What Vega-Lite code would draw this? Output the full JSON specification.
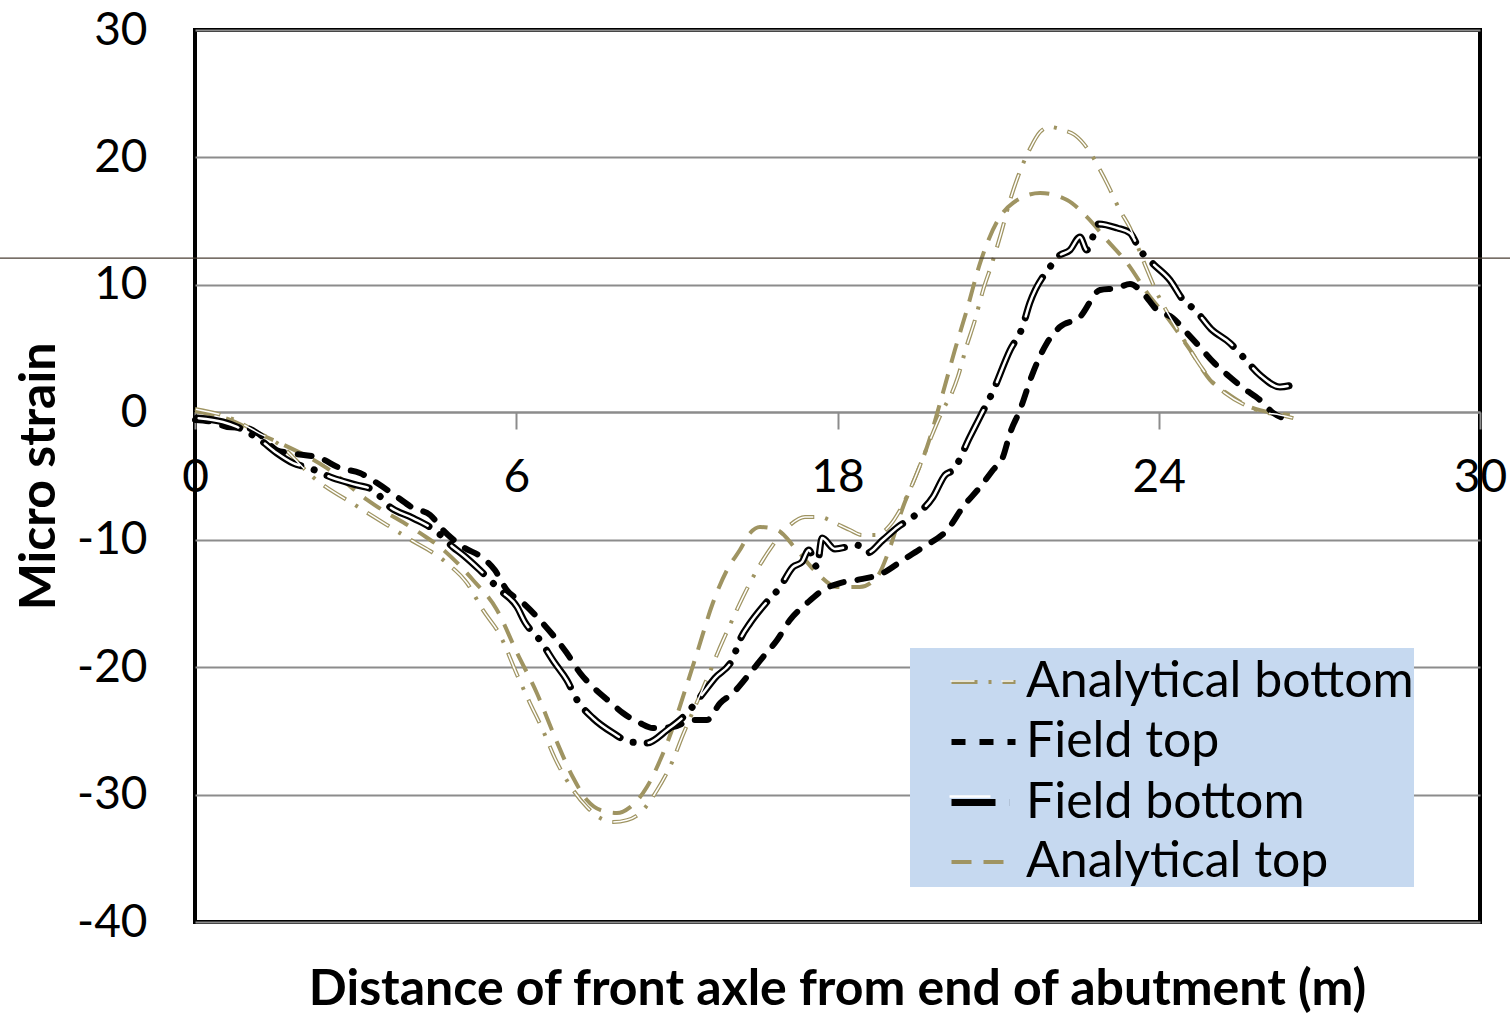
{
"$schema":"https://vega.github.io/schema/vega-lite/v6.json",
"width":1285,"height":892,
"autosize":{"type":"none"},
"padding":{"left":195,"top":30,"right":30,"bottom":94},
"background":"white",
"title":{"text":"Distance of front axle from end of abutment (m)","orient":"bottom","anchor":"middle","font":"Lato","fontSize":50,"fontWeight":"bold","color":"black","offset":20},
"config":{"view":{"stroke":"black","strokeWidth":4},"font":"Lato"},
"datasets":{"strain":[
{"series":"Analytical top","distance":0,"strain":0.10},{"series":"Analytical top","distance":0.82,"strain":-0.60},{"series":"Analytical top","distance":1.45,"strain":-1.62},{"series":"Analytical top","distance":1.98,"strain":-2.41},{"series":"Analytical top","distance":3.08,"strain":-4.38},{"series":"Analytical top","distance":4.02,"strain":-6.88},{"series":"Analytical top","distance":5.25,"strain":-9.47},{"series":"Analytical top","distance":5.72,"strain":-10.57},{"series":"Analytical top","distance":6.49,"strain":-13.16},{"series":"Analytical top","distance":7.05,"strain":-15.51},{"series":"Analytical top","distance":7.52,"strain":-18.89},{"series":"Analytical top","distance":7.98,"strain":-22.03},{"series":"Analytical top","distance":8.40,"strain":-25.48},{"series":"Analytical top","distance":8.82,"strain":-28.62},{"series":"Analytical top","distance":9.15,"strain":-30.43},{"series":"Analytical top","distance":9.46,"strain":-31.21},{"series":"Analytical top","distance":9.85,"strain":-31.45},{"series":"Analytical top","distance":10.16,"strain":-30.98},{"series":"Analytical top","distance":10.55,"strain":-29.41},{"series":"Analytical top","distance":10.86,"strain":-27.29},{"series":"Analytical top","distance":11.16,"strain":-24.70},{"series":"Analytical top","distance":11.39,"strain":-22.35},{"series":"Analytical top","distance":11.72,"strain":-18.89},{"series":"Analytical top","distance":12.09,"strain":-14.97},{"series":"Analytical top","distance":12.42,"strain":-12.38},{"series":"Analytical top","distance":12.72,"strain":-10.81},{"series":"Analytical top","distance":12.96,"strain":-9.47},{"series":"Analytical top","distance":13.19,"strain":-9.00},{"series":"Analytical top","distance":13.59,"strain":-9.24},{"series":"Analytical top","distance":14.05,"strain":-10.81},{"series":"Analytical top","distance":14.52,"strain":-12.61},{"series":"Analytical top","distance":14.99,"strain":-13.71},{"series":"Analytical top","distance":15.52,"strain":-13.71},{"series":"Analytical top","distance":15.92,"strain":-12.93},{"series":"Analytical top","distance":16.23,"strain":-10.57},{"series":"Analytical top","distance":16.53,"strain":-7.43},{"series":"Analytical top","distance":16.76,"strain":-5.55},{"series":"Analytical top","distance":17.09,"strain":-2.72},{"series":"Analytical top","distance":17.46,"strain":1.51},{"series":"Analytical top","distance":17.74,"strain":4.89},{"series":"Analytical top","distance":18.02,"strain":8.03},{"series":"Analytical top","distance":18.33,"strain":11.72},{"series":"Analytical top","distance":18.79,"strain":15.33},{"series":"Analytical top","distance":19.10,"strain":16.43},{"series":"Analytical top","distance":19.73,"strain":17.21},{"series":"Analytical top","distance":20.36,"strain":16.66},{"series":"Analytical top","distance":20.82,"strain":15.33},{"series":"Analytical top","distance":21.29,"strain":13.52},{"series":"Analytical top","distance":21.76,"strain":11.72},{"series":"Analytical top","distance":22.30,"strain":9.05},{"series":"Analytical top","distance":22.69,"strain":7.48},{"series":"Analytical top","distance":23.23,"strain":4.89},{"series":"Analytical top","distance":23.70,"strain":2.53},{"series":"Analytical top","distance":24.09,"strain":1.51},{"series":"Analytical top","distance":24.63,"strain":0.42},{"series":"Analytical top","distance":25.17,"strain":-0.05},{"series":"Analytical top","distance":25.56,"strain":-0.21},
{"series":"Analytical bottom","distance":0,"strain":0.26},{"series":"Analytical bottom","distance":0.82,"strain":-0.45},{"series":"Analytical bottom","distance":1.45,"strain":-1.55},{"series":"Analytical bottom","distance":1.98,"strain":-2.56},{"series":"Analytical bottom","distance":2.75,"strain":-5.08},{"series":"Analytical bottom","distance":3.81,"strain":-7.43},{"series":"Analytical bottom","distance":4.97,"strain":-9.87},{"series":"Analytical bottom","distance":5.88,"strain":-11.83},{"series":"Analytical bottom","distance":6.35,"strain":-13.40},{"series":"Analytical bottom","distance":6.72,"strain":-15.51},{"series":"Analytical bottom","distance":7.12,"strain":-17.48},{"series":"Analytical bottom","distance":7.52,"strain":-20.61},{"series":"Analytical bottom","distance":7.82,"strain":-22.82},{"series":"Analytical bottom","distance":8.12,"strain":-24.93},{"series":"Analytical bottom","distance":8.40,"strain":-27.13},{"series":"Analytical bottom","distance":8.75,"strain":-29.25},{"series":"Analytical bottom","distance":9.15,"strain":-30.98},{"series":"Analytical bottom","distance":9.46,"strain":-31.84},{"series":"Analytical bottom","distance":9.76,"strain":-32.15},{"series":"Analytical bottom","distance":10.09,"strain":-32.00},{"series":"Analytical bottom","distance":10.39,"strain":-31.45},{"series":"Analytical bottom","distance":10.79,"strain":-29.64},{"series":"Analytical bottom","distance":11.14,"strain":-27.44},{"series":"Analytical bottom","distance":11.39,"strain":-25.33},{"series":"Analytical bottom","distance":11.79,"strain":-22.19},{"series":"Analytical bottom","distance":12.02,"strain":-20.38},{"series":"Analytical bottom","distance":12.21,"strain":-18.81},{"series":"Analytical bottom","distance":12.49,"strain":-16.69},{"series":"Analytical bottom","distance":12.79,"strain":-14.50},{"series":"Analytical bottom","distance":13.12,"strain":-12.38},{"series":"Analytical bottom","distance":13.49,"strain":-10.42},{"series":"Analytical bottom","distance":13.89,"strain":-8.85},{"series":"Analytical bottom","distance":14.24,"strain":-8.22},{"series":"Analytical bottom","distance":14.59,"strain":-8.22},{"series":"Analytical bottom","distance":14.94,"strain":-8.69},{"series":"Analytical bottom","distance":15.29,"strain":-9.24},{"series":"Analytical bottom","distance":15.57,"strain":-9.63},{"series":"Analytical bottom","distance":15.88,"strain":-9.63},{"series":"Analytical bottom","distance":16.23,"strain":-8.85},{"series":"Analytical bottom","distance":16.46,"strain":-7.67},{"series":"Analytical bottom","distance":16.76,"strain":-5.55},{"series":"Analytical bottom","distance":17.16,"strain":-2.17},{"series":"Analytical bottom","distance":17.46,"strain":0.18},{"series":"Analytical bottom","distance":17.67,"strain":1.51},{"series":"Analytical bottom","distance":17.81,"strain":2.77},{"series":"Analytical bottom","distance":18.00,"strain":5.04},{"series":"Analytical bottom","distance":18.21,"strain":7.24},{"series":"Analytical bottom","distance":18.40,"strain":9.60},{"series":"Analytical bottom","distance":18.61,"strain":11.72},{"series":"Analytical bottom","distance":18.82,"strain":14.07},{"series":"Analytical bottom","distance":19.03,"strain":16.66},{"series":"Analytical bottom","distance":19.21,"strain":18.46},{"series":"Analytical bottom","distance":19.49,"strain":20.66},{"series":"Analytical bottom","distance":19.73,"strain":22.00},{"series":"Analytical bottom","distance":19.96,"strain":22.39},{"series":"Analytical bottom","distance":20.26,"strain":22.15},{"series":"Analytical bottom","distance":20.54,"strain":21.76},{"series":"Analytical bottom","distance":20.89,"strain":20.43},{"series":"Analytical bottom","distance":21.13,"strain":19.01},{"series":"Analytical bottom","distance":21.29,"strain":17.99},{"series":"Analytical bottom","distance":21.59,"strain":15.88},{"series":"Analytical bottom","distance":21.83,"strain":14.46},{"series":"Analytical bottom","distance":22.18,"strain":11.56},{"series":"Analytical bottom","distance":22.46,"strain":9.36},{"series":"Analytical bottom","distance":22.83,"strain":7.09},{"series":"Analytical bottom","distance":23.16,"strain":5.28},{"series":"Analytical bottom","distance":23.46,"strain":3.71},{"series":"Analytical bottom","distance":23.77,"strain":2.30},{"series":"Analytical bottom","distance":24.05,"strain":1.51},{"series":"Analytical bottom","distance":24.51,"strain":0.57},{"series":"Analytical bottom","distance":24.93,"strain":0.02},{"series":"Analytical bottom","distance":25.33,"strain":-0.21},{"series":"Analytical bottom","distance":25.80,"strain":-0.60},
{"series":"Field top","distance":0,"strain":-0.60},{"series":"Field top","distance":0.42,"strain":-0.76},{"series":"Field top","distance":0.75,"strain":-1.15},{"series":"Field top","distance":1.21,"strain":-1.23},{"series":"Field top","distance":1.52,"strain":-1.78},{"series":"Field top","distance":1.91,"strain":-2.97},{"series":"Field top","distance":2.22,"strain":-3.20},{"series":"Field top","distance":2.92,"strain":-3.60},{"series":"Field top","distance":3.39,"strain":-4.38},{"series":"Field top","distance":3.85,"strain":-4.77},{"series":"Field top","distance":4.25,"strain":-5.55},{"series":"Field top","distance":4.72,"strain":-6.65},{"series":"Field top","distance":5.09,"strain":-7.51},{"series":"Field top","distance":5.49,"strain":-8.06},{"series":"Field top","distance":5.79,"strain":-9.24},{"series":"Field top","distance":6.26,"strain":-10.57},{"series":"Field top","distance":6.72,"strain":-11.43},{"series":"Field top","distance":7.00,"strain":-12.38},{"series":"Field top","distance":7.28,"strain":-13.95},{"series":"Field top","distance":7.66,"strain":-14.97},{"series":"Field top","distance":8.05,"strain":-16.30},{"series":"Field top","distance":8.45,"strain":-17.87},{"series":"Field top","distance":8.68,"strain":-18.89},{"series":"Field top","distance":8.99,"strain":-20.46},{"series":"Field top","distance":9.29,"strain":-21.56},{"series":"Field top","distance":9.69,"strain":-22.74},{"series":"Field top","distance":9.99,"strain":-23.60},{"series":"Field top","distance":10.39,"strain":-24.39},{"series":"Field top","distance":10.69,"strain":-24.78},{"series":"Field top","distance":11.16,"strain":-24.70},{"series":"Field top","distance":11.63,"strain":-24.15},{"series":"Field top","distance":11.95,"strain":-24.15},{"series":"Field top","distance":12.26,"strain":-22.82},{"series":"Field top","distance":12.56,"strain":-22.03},{"series":"Field top","distance":12.96,"strain":-20.46},{"series":"Field top","distance":13.26,"strain":-19.21},{"series":"Field top","distance":13.59,"strain":-17.87},{"series":"Field top","distance":13.89,"strain":-16.30},{"series":"Field top","distance":14.29,"strain":-14.97},{"series":"Field top","distance":14.66,"strain":-13.95},{"series":"Field top","distance":15.06,"strain":-13.40},{"series":"Field top","distance":15.46,"strain":-13.16},{"series":"Field top","distance":16.06,"strain":-12.61},{"series":"Field top","distance":16.53,"strain":-11.59},{"series":"Field top","distance":17.00,"strain":-10.57},{"series":"Field top","distance":17.56,"strain":-9.24},{"series":"Field top","distance":17.93,"strain":-7.43},{"series":"Field top","distance":18.33,"strain":-5.86},{"series":"Field top","distance":18.63,"strain":-4.53},{"series":"Field top","distance":18.86,"strain":-3.52},{"series":"Field top","distance":19.03,"strain":-1.62},{"series":"Field top","distance":19.26,"strain":0.18},{"series":"Field top","distance":19.56,"strain":3.08},{"series":"Field top","distance":19.89,"strain":5.44},{"series":"Field top","distance":20.19,"strain":6.69},{"series":"Field top","distance":20.66,"strain":7.48},{"series":"Field top","distance":21.13,"strain":9.60},{"series":"Field top","distance":21.53,"strain":9.75},{"series":"Field top","distance":21.83,"strain":10.07},{"series":"Field top","distance":22.13,"strain":9.36},{"series":"Field top","distance":22.46,"strain":8.03},{"series":"Field top","distance":22.83,"strain":7.40},{"series":"Field top","distance":23.16,"strain":6.22},{"series":"Field top","distance":23.46,"strain":5.12},{"series":"Field top","distance":23.77,"strain":3.95},{"series":"Field top","distance":24.16,"strain":2.77},{"series":"Field top","distance":24.47,"strain":1.91},{"series":"Field top","distance":24.86,"strain":0.97},{"series":"Field top","distance":25.17,"strain":-0.05},{"series":"Field top","distance":25.56,"strain":-0.60},
{"series":"Field bottom","distance":0.05,"strain":-0.45},{"series":"Field bottom","distance":0.65,"strain":-0.76},{"series":"Field bottom","distance":0.98,"strain":-1.15},{"series":"Field bottom","distance":1.52,"strain":-2.17},{"series":"Field bottom","distance":1.91,"strain":-3.20},{"series":"Field bottom","distance":2.29,"strain":-3.99},{"series":"Field bottom","distance":2.68,"strain":-4.38},{"series":"Field bottom","distance":3.22,"strain":-5.16},{"series":"Field bottom","distance":3.78,"strain":-5.71},{"series":"Field bottom","distance":4.16,"strain":-6.10},{"series":"Field bottom","distance":4.55,"strain":-7.43},{"series":"Field bottom","distance":5.09,"strain":-8.30},{"series":"Field bottom","distance":5.65,"strain":-9.39},{"series":"Field bottom","distance":6.02,"strain":-10.57},{"series":"Field bottom","distance":6.26,"strain":-11.20},{"series":"Field bottom","distance":6.65,"strain":-12.38},{"series":"Field bottom","distance":7.12,"strain":-13.95},{"series":"Field bottom","distance":7.52,"strain":-15.28},{"series":"Field bottom","distance":7.70,"strain":-16.46},{"series":"Field bottom","distance":8.05,"strain":-17.87},{"series":"Field bottom","distance":8.40,"strain":-19.68},{"series":"Field bottom","distance":8.68,"strain":-21.01},{"series":"Field bottom","distance":8.92,"strain":-22.58},{"series":"Field bottom","distance":9.29,"strain":-24.00},{"series":"Field bottom","distance":9.76,"strain":-25.17},{"series":"Field bottom","distance":10.16,"strain":-25.87},{"series":"Field bottom","distance":10.55,"strain":-25.95},{"series":"Field bottom","distance":11.02,"strain":-24.93},{"series":"Field bottom","distance":11.49,"strain":-23.60},{"series":"Field bottom","distance":11.79,"strain":-22.35},{"series":"Field bottom","distance":12.14,"strain":-20.85},{"series":"Field bottom","distance":12.56,"strain":-19.29},{"series":"Field bottom","distance":12.72,"strain":-17.87},{"series":"Field bottom","distance":12.96,"strain":-16.54},{"series":"Field bottom","distance":13.31,"strain":-15.04},{"series":"Field bottom","distance":13.66,"strain":-13.71},{"series":"Field bottom","distance":13.96,"strain":-12.14},{"series":"Field bottom","distance":14.17,"strain":-11.75},{"series":"Field bottom","distance":14.33,"strain":-10.81},{"series":"Field bottom","distance":14.52,"strain":-12.14},{"series":"Field bottom","distance":14.64,"strain":-9.87},{"series":"Field bottom","distance":14.94,"strain":-10.73},{"series":"Field bottom","distance":15.46,"strain":-10.42},{"series":"Field bottom","distance":15.69,"strain":-11.04},{"series":"Field bottom","distance":16.06,"strain":-10.02},{"series":"Field bottom","distance":16.41,"strain":-9.00},{"series":"Field bottom","distance":16.76,"strain":-8.22},{"series":"Field bottom","distance":17.23,"strain":-6.65},{"series":"Field bottom","distance":17.51,"strain":-4.93},{"series":"Field bottom","distance":17.70,"strain":-4.53},{"series":"Field bottom","distance":18.09,"strain":-1.94},{"series":"Field bottom","distance":18.35,"strain":-0.21},{"series":"Field bottom","distance":18.61,"strain":1.51},{"series":"Field bottom","distance":19.03,"strain":4.89},{"series":"Field bottom","distance":19.31,"strain":6.62},{"series":"Field bottom","distance":19.49,"strain":8.58},{"series":"Field bottom","distance":19.96,"strain":11.40},{"series":"Field bottom","distance":20.17,"strain":12.27},{"series":"Field bottom","distance":20.43,"strain":12.74},{"series":"Field bottom","distance":20.66,"strain":13.76},{"series":"Field bottom","distance":20.82,"strain":12.74},{"series":"Field bottom","distance":21.10,"strain":14.78},{"series":"Field bottom","distance":21.53,"strain":14.46},{"series":"Field bottom","distance":21.83,"strain":14.07},{"series":"Field bottom","distance":22.06,"strain":12.74},{"series":"Field bottom","distance":22.37,"strain":11.64},{"series":"Field bottom","distance":22.76,"strain":10.38},{"series":"Field bottom","distance":23.07,"strain":8.81},{"series":"Field bottom","distance":23.35,"strain":8.03},{"series":"Field bottom","distance":23.72,"strain":6.54},{"series":"Field bottom","distance":24.16,"strain":5.44},{"series":"Field bottom","distance":24.47,"strain":4.34},{"series":"Field bottom","distance":24.86,"strain":2.93},{"series":"Field bottom","distance":25.33,"strain":1.99},{"series":"Field bottom","distance":25.77,"strain":2.30}
]},
"data":{"name":"strain"},
"encoding":{
"x":{"field":"distance","type":"quantitative","scale":{"domain":[0,30],"nice":false,"zero":false},
 "axis":{"title":null,"values":[0,7.5,15,22.5,30],"labelExpr":"datum.value==7.5?'6':datum.value==15?'18':datum.value==22.5?'24':datum.label","offset":-510,"domainColor":"#8c8c8c","domainWidth":2,"tickColor":"#8c8c8c","tickWidth":2,"tickSize":17,"labelFont":"Lato","labelFontSize":46,"labelColor":"black","labelPadding":26,"labelFlush":false,"labelOverlap":false,"grid":false}},
"y":{"field":"strain","type":"quantitative","scale":{"domain":[-40,30],"nice":false,"zero":false},
 "axis":{"title":"Micro strain","titleFont":"Lato","titleFontSize":50,"titleFontWeight":"bold","titleColor":"black","titlePadding":12,"values":[-40,-30,-20,-10,0,10,20,30],"labelExpr":"'' + datum.value","labelFont":"Lato","labelFontSize":46,"labelColor":"black","labelPadding":48,"ticks":false,"domain":false,"grid":true,"gridColor":"#8c8c8c","gridWidth":2,"labelFlush":false,"labelOverlap":false}}
},
"resolve":{"scale":{"color":"independent","strokeDash":"independent","strokeWidth":"independent"}},
"layer":[
{"encoding":{
 "color":{"field":"series","type":"nominal","scale":{"domain":["Analytical bottom","Field top","Field bottom","Analytical top"],"range":["#9f9462","#000000","#000000","#9f9462"]},
  "legend":{"orient":"none","legendX":715,"legendY":618,"title":null,"fillColor":"#c6d9f0","padding":0,"symbolOffset":38,"symbolSize":4096,"symbolType":"stroke","labelFont":"Lato","labelFontSize":50,"labelColor":"black","labelOffset":7,"rowPadding":-4,"labelLimit":700}},
 "strokeDash":{"field":"series","type":"nominal","scale":{"domain":["Analytical bottom","Field top","Field bottom","Analytical top"],"range":[[26,11,3,11],[14,14],[44,14,0.1,14],[20,12]]}},
 "strokeWidth":{"field":"series","type":"nominal","scale":{"type":"ordinal","domain":["Analytical bottom","Field top","Field bottom","Analytical top"],"range":[4,6,7,4]}}
 },
 "layer":[
 {"transform":[{"filter":"datum.series=='Analytical top'"}],"mark":{"type":"line","interpolate":"monotone","strokeCap":"butt"}},
 {"transform":[{"filter":"datum.series=='Analytical bottom'"}],"mark":{"type":"line","interpolate":"monotone","strokeCap":"butt"}},
 {"transform":[{"filter":"datum.series=='Field top'"}],"mark":{"type":"line","interpolate":"monotone","strokeCap":"round"}},
 {"transform":[{"filter":"datum.series=='Field bottom'"}],"mark":{"type":"line","interpolate":"monotone","strokeCap":"round"}}
 ]
},
{"encoding":{
 "color":{"field":"series","type":"nominal","scale":{"domain":["Analytical bottom","Field top","Field bottom","Analytical top"],"range":["#ffffff","transparent","#ffffff","transparent"]},
  "legend":{"orient":"none","legendX":715,"legendY":618,"title":null,"padding":0,"symbolOffset":38,"symbolSize":4096,"symbolType":"stroke","labelExpr":"''","labelFontSize":50,"labelOffset":7,"rowPadding":-4}},
 "strokeDash":{"field":"series","type":"nominal","scale":{"domain":["Analytical bottom","Field top","Field bottom","Analytical top"],"range":[[0,1,24,26],[1,0],[41,31.1],[1,0]]}},
 "strokeWidth":{"field":"series","type":"nominal","scale":{"type":"ordinal","domain":["Analytical bottom","Field top","Field bottom","Analytical top"],"range":[1.5,0,2.5,0]}}
 },
 "layer":[
 {"transform":[{"filter":"datum.series=='Analytical bottom'"}],"mark":{"type":"line","interpolate":"monotone","strokeCap":"butt"}},
 {"transform":[{"filter":"datum.series=='Field bottom'"}],"mark":{"type":"line","interpolate":"monotone","strokeCap":"round","strokeDashOffset":-1.5}}
 ]
},
{"data":{"values":[{"level":12.1,"start":-5,"end":31}]},"mark":{"type":"rule","clip":false,"color":"#4a3f35","strokeWidth":1.2},"encoding":{"x":{"field":"start","type":"quantitative"},"x2":{"field":"end"},"y":{"field":"level","type":"quantitative"}}}
]
}
